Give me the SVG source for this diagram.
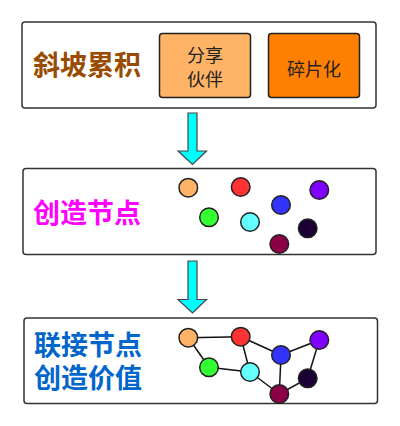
<svg xmlns="http://www.w3.org/2000/svg" width="400" height="426" viewBox="0 0 400 426">
<defs>
<style>
.frame{fill:#fff;stroke:#333;stroke-width:1.5}
.inner{stroke:#222;stroke-width:1.5}
.title{font-family:"Liberation Sans","Noto Sans CJK SC",sans-serif;font-weight:bold;font-size:27px}
.lbl{font-family:"Liberation Sans","Noto Sans CJK SC",sans-serif;font-size:18px;fill:#222;text-anchor:middle}
.arrow{fill:#00FFFF;stroke:#444;stroke-width:1.2}
.n{stroke:#222;stroke-width:1.5}
.e{stroke:#111;stroke-width:1.5;fill:none}
</style>
</defs>
<g id="stage1">
<rect class="frame" x="22" y="22" width="354" height="86" rx="3"/>
<text class="title" x="33" y="75" fill="#994C00">斜坡累积</text>
</g>
<g id="share">
<rect class="inner" x="159.5" y="33.5" width="91" height="64" rx="3" fill="#FFB366"/>
<text class="lbl" x="205" y="62">分享</text>
<text class="lbl" x="205" y="86">伙伴</text>
</g>
<g id="fragment">
<rect class="inner" x="268.5" y="33.5" width="91" height="64" rx="3" fill="#FF8000"/>
<text class="lbl" x="314" y="76">碎片化</text>
</g>
<g id="stage2">
<rect class="frame" x="23" y="168.5" width="353" height="86" rx="3"/>
<text class="title" x="33" y="223" fill="#FF00FF">创造节点</text>
<circle class="n" cx="188.3" cy="187.7" r="9.3" fill="#FFB366"/>
<circle class="n" cx="240.7" cy="187" r="9.3" fill="#FF3333"/>
<circle class="n" cx="319.3" cy="190" r="9.3" fill="#8000FF"/>
<circle class="n" cx="281" cy="205" r="9.3" fill="#3333FF"/>
<circle class="n" cx="209" cy="217.3" r="9.3" fill="#33FF33"/>
<circle class="n" cx="250" cy="222" r="9.3" fill="#66FFFF"/>
<circle class="n" cx="307.7" cy="228.3" r="9.3" fill="#1A0033"/>
<circle class="n" cx="279.3" cy="244" r="9.3" fill="#8C0046"/>
</g>
<g id="stage3">
<rect class="frame" x="24" y="318" width="353.5" height="85.5" rx="3"/>
<text class="title" x="34" y="355" fill="#0066CC">联接节点</text>
<text class="title" x="34" y="388" fill="#0066CC">创造价值</text>
</g>
<g id="connectors">
<path class="arrow" d="M188 113 H197 V151 H206.5 L192.5 164.5 L178 151 H188 Z"/>
<path class="arrow" d="M188 261 H197 V299.5 H206.5 L192.5 313 L178 299.5 H188 Z"/>
<line class="e" x1="188.3" y1="337.7" x2="240.7" y2="336.7"/>
<line class="e" x1="188.3" y1="337.7" x2="209" y2="367.3"/>
<line class="e" x1="209" y1="367.3" x2="250" y2="372"/>
<line class="e" x1="240.7" y1="336.7" x2="250" y2="372"/>
<line class="e" x1="240.7" y1="336.7" x2="281" y2="355"/>
<line class="e" x1="250" y1="372" x2="279.3" y2="394"/>
<line class="e" x1="281" y1="355" x2="279.3" y2="394"/>
<line class="e" x1="281" y1="355" x2="319.3" y2="340"/>
<line class="e" x1="319.3" y1="340" x2="307.7" y2="378.3"/>
<line class="e" x1="307.7" y1="378.3" x2="279.3" y2="394"/>
</g>
<g id="network">
<circle class="n" cx="188.3" cy="337.7" r="9.3" fill="#FFB366"/>
<circle class="n" cx="240.7" cy="336.7" r="9.3" fill="#FF3333"/>
<circle class="n" cx="319.3" cy="340" r="9.3" fill="#8000FF"/>
<circle class="n" cx="281" cy="355" r="9.3" fill="#3333FF"/>
<circle class="n" cx="209" cy="367.3" r="9.3" fill="#33FF33"/>
<circle class="n" cx="250" cy="372" r="9.3" fill="#66FFFF"/>
<circle class="n" cx="307.7" cy="378.3" r="9.3" fill="#1A0033"/>
<circle class="n" cx="279.3" cy="394" r="9.3" fill="#8C0046"/>
</g>
</svg>
